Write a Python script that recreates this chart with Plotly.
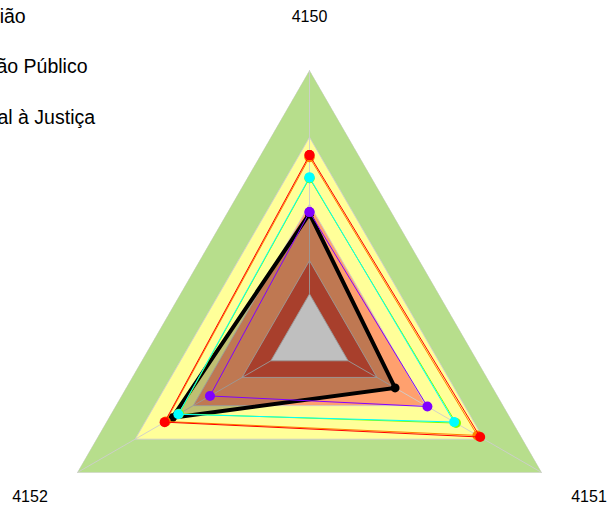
import plotly.graph_objects as go

# ---- data ----
categories = ["4150", "4151", "4152"]

band_levels = [1.0, 0.75, 0.5, 0.29, 0.166]
band_colors = ["#b7de8c", "#ffff99", "#ffa06e", "#e0553b", "#ffffff"]

black_vals = [0.465, 0.368, 0.59]
orange_vals = [0.675, 0.722, 0.618]
red_vals = [0.683, 0.734, 0.623]
lime_vals = [0.597, 0.630, 0.561]
cyan_vals = [0.600, 0.622, 0.564]
purple_vals = [0.471, 0.507, 0.428]

legend_names = ["Média da Região", "Média do Órgão Público", "Média Nacional à Justiça"]

def closed(v):
    return list(v) + [v[0]]

theta_closed = closed(categories)

fig = go.Figure()

# background bands
for lvl, col in zip(band_levels, band_colors):
    fig.add_trace(go.Scatterpolar(
        r=closed([lvl] * len(categories)), theta=theta_closed,
        mode="lines", fill="toself", fillcolor=col,
        line=dict(color="rgba(205,205,205,0.9)", width=1),
        hoverinfo="skip", showlegend=False))

# spokes
sr, st = [], []
for c in categories:
    sr += [band_levels[-1], band_levels[0], None]
    st += [c, c, None]
fig.add_trace(go.Scatterpolar(r=sr, theta=st, mode="lines",
                              line=dict(color="rgba(205,205,205,0.9)", width=1),
                              connectgaps=False, hoverinfo="skip", showlegend=False))

# black highlighted series
fig.add_trace(go.Scatterpolar(
    r=closed(black_vals), theta=theta_closed, mode="lines+markers",
    fill="toself", fillcolor="rgba(0,0,0,0.25)",
    line=dict(color="black", width=4), marker=dict(color="black", size=9),
    name="Unidade", showlegend=False))

series = [
    (orange_vals, "#ff8000", None, None),
    (red_vals, "#ff0000", legend_names[2], 3),
    (lime_vals, "#80ff00", None, None),
    (cyan_vals, "#00ffff", legend_names[1], 2),
    (purple_vals, "#8000ff", legend_names[0], 1),
]
for i, (vals, col, nm, rank) in enumerate(series):
    fig.add_trace(go.Scatterpolar(
        r=closed(vals), theta=theta_closed, mode="lines+markers",
        line=dict(color=col, width=1), marker=dict(color=col, size=10),
        name=nm if nm else "", showlegend=nm is not None,
        legendgroup="g%d" % i, legendrank=rank if rank else 1000))

# invisible trace on an overlaid polar subplot that carries the top label
fig.add_trace(go.Scatterpolar(
    r=[0] * len(categories), theta=categories, mode="markers",
    marker=dict(opacity=0), hoverinfo="skip", showlegend=False,
    subplot="polar2"))

def angular(labels, ticklen):
    return dict(
        direction="clockwise", rotation=90,
        categoryorder="array", categoryarray=categories,
        tickmode="array", tickvals=categories, ticktext=labels,
        showgrid=False, showline=False,
        ticks="outside", ticklen=ticklen, tickcolor="rgba(0,0,0,0)",
        tickfont=dict(size=16, color="black"),
    )

full = dict(x=[0, 1], y=[0, 1])

fig.update_layout(
    width=608, height=607,
    margin=dict(l=41, r=30, t=70, b=0, autoexpand=False),
    paper_bgcolor="white",
    font=dict(family="Liberation Sans, Arial, sans-serif", color="black"),
    polar=dict(
        domain=full,
        bgcolor="rgba(0,0,0,0)",
        gridshape="linear",
        radialaxis=dict(visible=False, range=[0, 1]),
        angularaxis=angular(["", categories[1], categories[2]], 30),
    ),
    polar2=dict(
        domain=full,
        bgcolor="rgba(0,0,0,0)",
        gridshape="linear",
        radialaxis=dict(visible=False, range=[0, 1]),
        angularaxis=angular([categories[0], "", ""], 41),
    ),
    legend=dict(
        x=-0.3775, xanchor="left", y=1.1374, yanchor="top",
        traceorder="grouped", tracegroupgap=22,
        font=dict(size=19.5, color="black"),
        bgcolor="rgba(0,0,0,0)",
    ),
)

fig.write_html("out.html", config={"displayModeBar": False},
               post_script="document.body.style.margin='0px';")
